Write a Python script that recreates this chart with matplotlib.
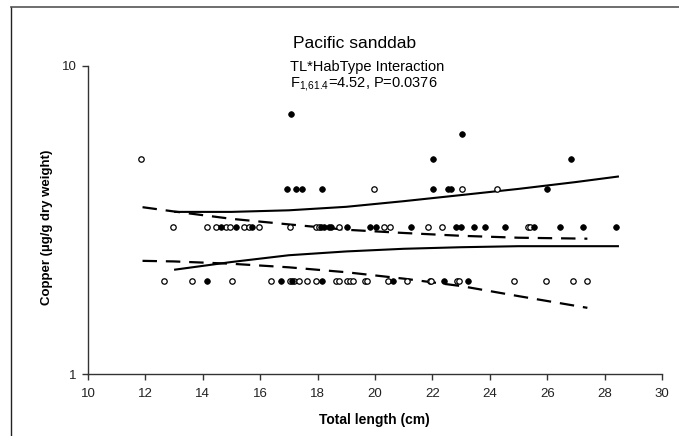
import numpy as np
import matplotlib
matplotlib.use("Agg")
import matplotlib.pyplot as plt
from matplotlib.lines import Line2D
from matplotlib.ticker import FixedLocator, NullLocator, FixedFormatter

plt.rcParams['font.family'] = ['Liberation Sans', 'DejaVu Sans']
plt.rcParams['mathtext.fontset'] = 'custom'
plt.rcParams['mathtext.rm'] = 'Liberation Sans'

# filled circles (one habitat type)
filled_tl = [17.06, 23.02, 22.03, 26.82,
             16.93, 17.23, 17.45, 18.14, 22.03, 22.53, 22.65, 26.01,
             14.65, 15.15, 15.73, 18.13, 18.24, 18.40, 18.48, 19.04, 19.83, 20.02,
             21.25, 22.82, 23.01, 23.45, 23.82, 24.54, 25.55, 26.44, 27.23, 28.41,
             14.16, 16.74, 17.12, 18.14, 20.64, 22.42, 23.23]
filled_cu = [7, 6, 5, 5,
             4, 4, 4, 4, 4, 4, 4, 4,
             3, 3, 3, 3, 3, 3, 3, 3, 3, 3,
             3, 3, 3, 3, 3, 3, 3, 3, 3, 3,
             2, 2, 2, 2, 2, 2, 2]

# open circles (other habitat type)
open_tl = [11.84,
           19.96, 23.03, 24.24,
           12.95, 14.16, 14.45, 14.82, 14.96, 15.44, 15.61, 15.95, 17.05, 17.95,
           18.05, 18.74, 20.33, 20.53, 21.85, 22.34, 25.32, 25.41,
           12.64, 13.63, 15.03, 16.37, 17.03, 17.17, 17.35, 17.63, 17.95, 18.63,
           18.74, 19.02, 19.14, 19.23, 19.65, 19.72, 20.45, 21.11, 21.90, 21.95,
           22.85, 22.94, 24.85, 25.95, 26.90, 27.40]
open_cu = [5,
           4, 4, 4,
           3, 3, 3, 3, 3, 3, 3, 3, 3, 3,
           3, 3, 3, 3, 3, 3, 3, 3,
           2, 2, 2, 2, 2, 2, 2, 2, 2, 2,
           2, 2, 2, 2, 2, 2, 2, 2, 2, 2,
           2, 2, 2, 2, 2, 2]

# solid curves
solid_tl = [13.0, 15.0, 17.0, 19.0, 21.0, 23.0, 25.0, 27.0, 28.5]
solid_up = [3.36, 3.36, 3.40, 3.49, 3.64, 3.81, 3.99, 4.20, 4.38]
solid_lo = [2.18, 2.31, 2.43, 2.50, 2.55, 2.58, 2.60, 2.60, 2.60]

# dashed curves
dash_tl = [11.9, 13.0, 15.0, 17.0, 19.0, 21.0, 23.0, 25.0, 27.4]
dash_up = [3.48, 3.37, 3.19, 3.06, 2.94, 2.87, 2.81, 2.77, 2.75]
dash_lo = [2.33, 2.32, 2.28, 2.22, 2.14, 2.04, 1.93, 1.79, 1.64]

W, H = 679, 436
fig = plt.figure(figsize=(W / 100, H / 100), dpi=100)
ax = fig.add_axes([88 / W, 1 - 374 / H, (662 - 88) / W, (374 - 66) / H])

ax.plot(solid_tl, solid_up, color="black", lw=1.5, solid_capstyle="butt")
ax.plot(solid_tl, solid_lo, color="black", lw=1.5, solid_capstyle="butt")
ax.plot(dash_tl, dash_up, color="black", lw=1.6, dashes=(6.5, 4))
ax.plot(dash_tl, dash_lo, color="black", lw=1.6, dashes=(6.5, 4))

ax.plot(open_tl, open_cu, "o", ms=3.9, mfc="white", mec="black", mew=0.9)
ax.plot(filled_tl, filled_cu, "o", ms=4.1, mfc="black", mec="black", mew=0.5)

ax.set_yscale("log")
ax.set_ylim(1, 10)
ax.set_xlim(10, 30)
ax.yaxis.set_major_locator(FixedLocator([1, 10]))
ax.yaxis.set_major_formatter(FixedFormatter(["1", "10"]))
ax.yaxis.set_minor_locator(NullLocator())
ax.set_xticks(np.arange(10, 31, 2))

ax.spines["top"].set_visible(False)
ax.spines["right"].set_visible(False)
for s in ["left", "bottom"]:
    ax.spines[s].set_linewidth(1.0)
    ax.spines[s].set_color("#333333")
ax.tick_params(direction="out", length=4, width=1, color="#333333",
               labelsize=9.5, labelcolor="#222222")
ax.tick_params(axis="x", pad=6)
ax.tick_params(axis="y", pad=4)

ax.set_xlabel("Total length (cm)", fontsize=10, fontweight="bold", va="center")
ax.xaxis.set_label_coords((374.5 - 88) / 574, (374 - 420) / 308)
ax.set_ylabel("Copper (µg/g dry weight)", fontsize=9.5, fontweight="bold", va="center")
ax.yaxis.set_label_coords((47 - 88) / 574, (374 - 227) / 308)

fig.text(355 / W, 1 - 47.5 / H, "Pacific sanddab", fontsize=12.5, ha="center", va="baseline")
fig.text(290 / W, 1 - 70.5 / H, "TL*HabType Interaction", fontsize=10.5, ha="left", va="baseline")
fig.text(290 / W, 1 - 87.5 / H, r"F$_{\mathregular{1{,}61.4}}$=4.52, P=0.0376",
         fontsize=10.5, ha="left", va="baseline")

# outer chart frame (only left and top edges visible)
fx = 10.5 / W
fy = 1 - 7 / H
fig.add_artist(Line2D([fx, fx], [0, fy], transform=fig.transFigure, color="#222222", lw=1))
fig.add_artist(Line2D([fx, 1], [fy, fy], transform=fig.transFigure, color="#555555", lw=1.2))

fig.savefig("out.png", dpi=100)
